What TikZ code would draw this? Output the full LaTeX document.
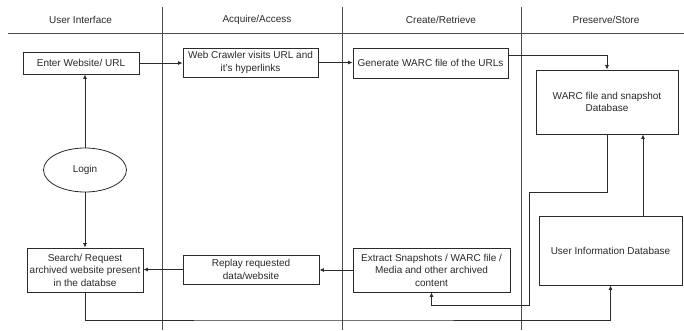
\documentclass[tikz,border=0pt]{standalone}
\usepackage{fontspec}
\setmainfont{Liberation Sans}
\usetikzlibrary{arrows.meta,shapes.geometric}
\definecolor{ink}{HTML}{2A2A2A}
\definecolor{lane}{HTML}{4D4D4D}
\tikzset{
  box/.style={draw=ink, line width=0.8pt, rectangle, inner sep=0pt, align=center,
    text=ink, font=\fontsize{10}{12.5}\selectfont},
  hdr/.style={text=ink, font=\fontsize{10}{12}\selectfont},
  lanes/.style={draw=lane, line width=0.8pt},
  conn/.style={draw=ink, line width=0.8pt},
  arr/.style={conn, -{Latex[length=4.5pt,width=4pt]}},
}
\begin{document}
\begin{tikzpicture}[x=1pt,y=-1pt]
\useasboundingbox (0,0) rectangle (684,330);
\fill[white] (0,0) rectangle (684,330);
% lanes
\coordinate (h0) at (8,33);
\coordinate (h1) at (684,33);
\draw[lanes] (h0) -- (h1);
\coordinate (v1t) at (162,7); \coordinate (v1b) at (162,330);
\coordinate (v2t) at (342,7); \coordinate (v2b) at (342,330);
\coordinate (v3t) at (521,7); \coordinate (v3b) at (521,330);
\draw[lanes] (v1t) -- (v1b);
\draw[lanes] (v2t) -- (v2b);
\draw[lanes] (v3t) -- (v3b);
% headers
\node[hdr] (t1) at (80.5,20) {User Interface};
\node[hdr] (t2) at (257,20) {Acquire/Access};
\node[hdr] (t3) at (441,20) {Create/Retrieve};
\node[hdr] (t4) at (606,20) {Preserve/Store};
% boxes
\node[box, minimum width=116pt, minimum height=22pt] (enter) at (81,63) {Enter Website/ URL};
\node[box, minimum width=135pt, minimum height=29pt] (web) at (250.5,62.5) {Web Crawler visits URL and\\it's hyperlinks};
\node[box, minimum width=155pt, minimum height=30pt] (gen) at (430.5,63) {Generate WARC file of the URLs};
\node[box, minimum width=142pt, minimum height=64pt] (warc) at (607,102) {WARC file and snapshot\\Database};
\node[box, ellipse, minimum width=83pt, minimum height=44pt] (login) at (85,170) {Login};
\node[box, minimum width=116pt, minimum height=44pt] (search) at (85,270) {Search/ Request\\archived website present\\in the databse};
\node[box, minimum width=136pt, minimum height=29pt] (replay) at (251,269.5) {Replay requested\\data/website};
\node[box, minimum width=157pt, minimum height=44pt] (extract) at (431.5,270) {Extract Snapshots / WARC file /\\Media and other archived\\content};
\node[box, minimum width=143pt, minimum height=69pt] (user) at (610.5,250.5) {User Information Database};
% connectors
\draw[arr] (enter.east) -- (web.west |- enter.east);
\draw[arr] (web.east) -- (gen.west |- web.east);
\draw[arr] ([yshift=8pt]gen.east) -| (warc.north);
\draw[arr] (login.north) -- (login.north |- enter.south);
\draw[arr] (login.south) -- (login.south |- search.north);
\draw[arr] (replay.west) -- (replay.west -| search.east);
\draw[arr] (extract.west) -- (extract.west -| replay.east);
\coordinate (w1) at (607,192);
\coordinate (w2) at (529,192);
\coordinate (w3) at (529,305);
\draw[arr] (warc.south) -- (w1) -- (w2) -- (w3) -| (extract.south);
\draw[arr] ([xshift=32.5pt]user.north) -- ([xshift=32.5pt]user.north |- warc.south);
\coordinate (s1) at (300,320);
\draw[arr] (search.south) |- (s1) -| (user.south);
\end{tikzpicture}
\end{document}
